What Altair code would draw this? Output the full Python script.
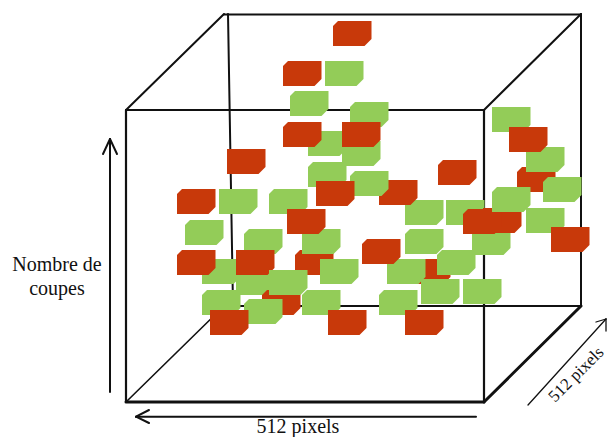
import altair as alt
import pandas as pd

# block colour, left edge, top edge, has top-left cut (drawing order)
rows = [
 ("G",350,102,1),("G",308,131,1),("R",283,122,1),("G",342,141,1),("R",342,122,0),
 ("G",290,91,1),("R",333,21,1),("R",283,61,1),("G",325,61,0),("R",227,149,0),
 ("G",308,162,1),("G",405,200,0),("R",379,180,0),("G",350,171,1),("R",316,181,0),
 ("R",177,189,1),("G",219,189,0),("G",269,189,1),("G",185,220,1),
 ("G",244,229,1),("R",295,250,1),("G",302,229,1),("R",287,209,0),("G",320,259,0),
 ("G",202,259,1),("G",236,270,0),("R",177,250,1),("R",236,250,0),
 ("R",262,290,1),("G",269,270,0),("G",202,290,1),("G",302,290,1),("G",244,299,1),
 ("R",210,310,0),("R",328,310,0),
 ("G",492,107,0),("R",517,167,1),("G",526,147,0),("R",509,127,0),("G",543,177,1),
 ("R",438,160,1),("G",446,200,0),("G",472,230,0),("R",483,208,0),("R",463,209,1),("G",492,187,1),
 ("G",526,208,0),("R",551,227,0),
 ("G",405,229,1),("R",412,259,1),("G",387,259,0),("R",362,239,1),("G",437,250,1),
 ("G",421,279,0),("G",463,279,0),("G",379,290,1),("R",405,310,0),
]
block_color = [r[0] for r in rows]
block_left = [r[1] for r in rows]
block_top = [r[2] for r in rows]
block_cut = [r[3] for r in rows]

# line segments: x, y, x2, y2, width
seg_x1 = [126,126,126,484,224,581,233,228,126,126,484,484,
          110,110,110, 136,136,136, 528,606,606]
seg_y1 = [110,402,110,110,14.5,14,306,14,110,402,110,402,
          392,139,139, 416.7,416.7,416.7, 405,319,319]
seg_x2 = [484,484,126,484,581,581,581,233,224,224,581,581,
          110,103,117, 476,149,149, 606,596,606]
seg_y2 = [110,402,402,402,14.5,306,306,306,14,306,14,306,
          139,154,154, 416.7,410,423, 319,322,331]
seg_w  = [2.2,3,2.2,2.2,2.2,2,2,2,2,1.6,2,3,
          2,2,2, 2,2,2, 1.3,1.3,1.3]

label_text = ["Nombre de", "coupes", "512 pixels"]
label_x = [57, 57, 298]
label_y = [265, 289, 427]

df = pd.DataFrame({"color": block_color, "cut": block_cut,
                   "cx": [v + 19.25 for v in block_left],
                   "cy": [v + 12.5 for v in block_top],
                   "i": range(len(rows))})
segs = pd.DataFrame({"x": seg_x1, "y": seg_y1, "x2": seg_x2, "y2": seg_y2, "w": seg_w})
labels = pd.DataFrame({"t": label_text, "x": label_x, "y": label_y})
rot = pd.DataFrame({"t": ["512 pixels"], "x": [555], "y": [403]})

X = alt.X("x:Q", scale=alt.Scale(domain=[8, 607]), axis=None)
Y = alt.Y("y:Q", scale=alt.Scale(domain=[437, 8]), axis=None)

lines = alt.Chart(segs).mark_rule(strokeCap="round").encode(
    x=X, y=Y, x2="x2:Q", y2="y2:Q",
    strokeWidth=alt.StrokeWidth("w:Q", scale=None),
    color=alt.value("#111111"),
)

path_cut = "M-14.25,-12.5L19.25,-12.5L19.25,5.5L12.25,12.5L-19.25,12.5L-19.25,-7.5Z"
path_flat = "M-19.25,-12.5L19.25,-12.5L19.25,5.5L12.25,12.5L-19.25,12.5Z"

blocks = alt.Chart(df).mark_point(filled=True, opacity=1, strokeWidth=0).encode(
    x=alt.X("cx:Q", scale=alt.Scale(domain=[8, 607]), axis=None),
    y=alt.Y("cy:Q", scale=alt.Scale(domain=[437, 8]), axis=None),
    color=alt.Color("color:N", scale=alt.Scale(domain=["R", "G"], range=["#C8390A", "#93CC58"]), legend=None),
    shape=alt.Shape("cut:N", scale=alt.Scale(domain=[1, 0], range=[path_cut, path_flat]), legend=None),
    size=alt.value(4),
    order="i:Q",
)

text = alt.Chart(labels).mark_text(font="Liberation Serif", fontSize=20, color="#111111", baseline="middle", align="center").encode(
    x=X, y=Y, text="t:N")
rtext = alt.Chart(rot).mark_text(font="Liberation Serif", fontSize=17, color="#111111", baseline="alphabetic", align="left", angle=315).encode(
    x=X, y=Y, text="t:N")

chart = alt.layer(lines, blocks, text, rtext).properties(
    width=599, height=429, padding=0, autosize=alt.AutoSizeParams(type="none")
).configure_view(stroke=None)

chart.save("out.html", embed_options={"renderer": "svg", "actions": False})
